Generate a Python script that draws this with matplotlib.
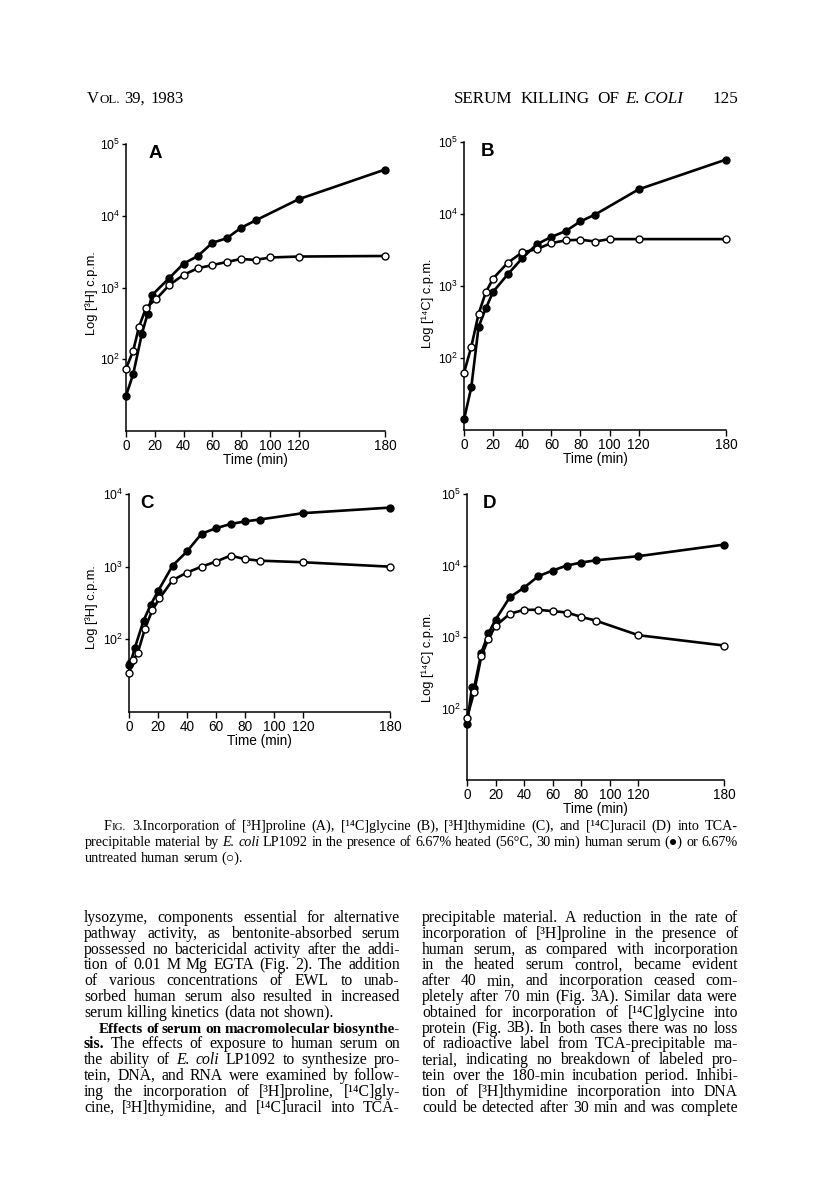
import matplotlib
matplotlib.use("Agg")
import matplotlib.pyplot as plt
from matplotlib.transforms import IdentityTransform

W, H = 816, 1196

plt.rcParams['mathtext.fontset'] = 'custom'
plt.rcParams['mathtext.rm'] = 'Liberation Sans'
plt.rcParams['mathtext.it'] = 'Liberation Sans:italic'
plt.rcParams['mathtext.bf'] = 'Liberation Sans:bold'

SANS = ['Liberation Sans', 'DejaVu Sans']
SERIF = ['Liberation Serif', 'DejaVu Serif']

# ---- data (time in min, counts in c.p.m.) ----
a_heated_t = [0, 5, 11, 15, 18, 30, 40, 50, 60, 70, 80, 90, 120, 180]
a_heated = [31, 62, 225, 430, 780, 1350, 2150, 2750, 4200, 4850, 6800, 8600, 17000, 44000]
a_untreated_t = [0, 5, 9, 14, 21, 30, 40, 50, 60, 70, 80, 90, 100, 120, 180]
a_untreated = [74, 131, 283, 525, 690, 1080, 1500, 1860, 2050, 2270, 2500, 2420, 2620, 2700, 2750]

b_heated_t = [0, 5, 10, 15, 20, 30, 40, 50, 60, 70, 80, 90, 120, 180]
b_heated = [14, 39, 270, 490, 830, 1450, 2430, 3800, 4800, 5800, 7900, 9800, 22000, 57000]
b_untreated_t = [0, 5, 10, 15, 20, 30, 40, 50, 60, 70, 80, 90, 100, 120, 180]
b_untreated = [62, 143, 410, 820, 1270, 2100, 2930, 3250, 3950, 4300, 4400, 4150, 4480, 4480, 4480]

c_heated_t = [0, 1, 4, 10, 15, 20, 30, 40, 50, 60, 70, 80, 90, 120, 180]
c_heated = [45, 47, 76, 180, 300, 460, 1030, 1620, 2840, 3380, 3860, 4200, 4450, 5450, 6500]
c_untreated_t = [0, 3, 6, 11, 16, 21, 30, 40, 50, 60, 70, 80, 90, 120, 180]
c_untreated = [34, 52, 65, 140, 250, 365, 650, 830, 1000, 1175, 1420, 1270, 1210, 1150, 1000]

d_heated_t = [0, 3.5, 5, 10, 15, 20, 30, 40, 50, 60, 70, 80, 90, 120, 180]
d_heated = [60, 200, 195, 600, 1120, 1750, 3600, 4900, 7100, 8500, 10000, 11000, 11800, 13500, 19600]
d_untreated_t = [0, 5, 10, 15, 20, 30, 40, 50, 60, 70, 80, 90, 120, 180]
d_untreated = [74, 170, 535, 950, 1430, 2110, 2400, 2400, 2300, 2200, 1910, 1700, 1060, 760]

time_ticks = [0, 20, 40, 60, 80, 100, 120, 180]

fig = plt.figure(figsize=(8.16, 11.96), dpi=100)
renderer = fig.canvas.get_renderer()


def panel(box, letter, letter_px, ylabel, label_px, ytop, yticks, ylabels,
          heated_t, heated, untr_t, untr):
    l, t, r, b = box
    ax = fig.add_axes([l / W, 1 - b / H, (r - l) / W, (b - t) / H])
    ax.set_yscale('log')
    ax.set_xlim(0, 180)
    ax.set_ylim(10, ytop)
    ax.plot(heated_t, heated, '-o', color='k', lw=1.9, ms=5.0, mfc='k', mec='k',
            clip_on=False, zorder=3)
    ax.plot(untr_t, untr, '-o', color='k', lw=1.9, ms=5.0, mfc='white', mec='k',
            mew=1.0, clip_on=False, zorder=4)
    for s in ['top', 'right']:
        ax.spines[s].set_visible(False)
    for s in ['left', 'bottom']:
        ax.spines[s].set_linewidth(1.1)
    ax.set_xticks(time_ticks)
    ax.set_xticklabels([str(v) for v in time_ticks], family=SANS, fontsize=9.8)
    ax.set_yticks(yticks)
    ax.set_yticklabels(ylabels, fontsize=8.8)
    ax.minorticks_off()
    ax.tick_params(axis='x', length=4, width=1, pad=2)
    ax.tick_params(axis='y', length=3, width=1, pad=1)
    ax.set_xlabel('Time (min)', family=SANS, fontsize=9.8, labelpad=0)
    ax.text((label_px[0] - l) / (r - l), (b - label_px[1]) / (b - t), ylabel,
            rotation=90, ha='center', va='center', family=SANS, fontsize=9.3,
            transform=ax.transAxes)
    ax.text((letter_px[0] - l) / (r - l), (b - letter_px[1]) / (b - t), letter,
            ha='center', va='center', family=SANS, fontsize=13.5, weight='bold',
            transform=ax.transAxes)
    return ax


panel((126, 144, 385, 431), 'A', (155, 153), 'Log [³H] c.p.m.', (92, 293), 1e5,
      [1e2, 1e3, 1e4, 1e5], ['$10^2$', '$10^3$', '$10^4$', '$10^5$'],
      a_heated_t, a_heated, a_untreated_t, a_untreated)
panel((464, 142, 726, 430), 'B', (488, 152), 'Log [¹⁴C] c.p.m.', (428, 303), 1e5,
      [1e2, 1e3, 1e4, 1e5], ['$10^2$', '$10^3$', '$10^4$', '$10^5$'],
      b_heated_t, b_heated, b_untreated_t, b_untreated)
panel((129, 494, 390, 712), 'C', (147, 503), 'Log [³H] c.p.m.', (92, 607), 1e4,
      [1e2, 1e3, 1e4], ['$10^2$', '$10^3$', '$10^4$'],
      c_heated_t, c_heated, c_untreated_t, c_untreated)
panel((467, 494, 724, 780), 'D', (489, 503), 'Log [¹⁴C] c.p.m.', (428, 657), 1e5,
      [1e2, 1e3, 1e4, 1e5], ['$10^2$', '$10^3$', '$10^4$', '$10^5$'],
      d_heated_t, d_heated, d_untreated_t, d_untreated)

# ---- page text ----
STYLE = {'r': ('normal', 'normal', 1.0), 'b': ('bold', 'normal', 1.0),
         'i': ('normal', 'italic', 1.0), 's': ('normal', 'normal', 0.78)}


def split_words(runs):
    words = [[]]
    for txt, st in runs:
        parts = txt.split(' ')
        for i, p in enumerate(parts):
            if i > 0:
                words.append([])
            if p:
                words[-1].append((p, st))
    return [w for w in words if w]


def make_words(words, size):
    arts = []
    for w in words:
        pieces = []
        for txt, st in w:
            wt, sl, sc = STYLE[st]
            tx = fig.text(0, 0, txt, fontsize=size * sc, weight=wt, style=sl,
                          family=SERIF, transform=IdentityTransform(),
                          ha='left', va='baseline')
            pieces.append((tx, tx.get_window_extent(renderer).width))
        arts.append(pieces)
    return arts


def draw_line(x0, y, runs, size, x1=None, space=0.25, min_gap=2.6):
    words = split_words(runs)
    arts = make_words(words, size)
    widths = [sum(p[1] for p in ps) for ps in arts]
    n = len(words)
    if x1 is not None and n > 1 and sum(widths) + min_gap * (n - 1) > x1 - x0:
        # too long at this size: shrink the line a little so it fits
        for ps in arts:
            for tx, _ in ps:
                tx.remove()
        size *= (x1 - x0 - min_gap * (n - 1)) / sum(widths)
        arts = make_words(words, size)
        widths = [sum(p[1] for p in ps) for ps in arts]
    gap = size * 100 / 72 * space
    if x1 is not None and n > 1:
        gap = max((x1 - x0 - sum(widths)) / (n - 1), 1.5)
    x = x0
    for ps, wd in zip(arts, widths):
        xx = x
        for tx, pw in ps:
            tx.set_position((xx, H - y))
            xx += pw
        x += wd + gap


# running head
draw_line(87, 103, [('V', 'r'), ('OL.', 's'), (' 39, 1983', 'r')], 12, space=0.3)
ecoli = fig.text(683, H - 103, 'E. COLI', fontsize=12.3, family=SERIF, style='italic',
                 transform=IdentityTransform(), ha='right', va='baseline')
ew = ecoli.get_window_extent(renderer).width
draw_line(454, 103, [('SERUM KILLING OF', 'r')], 12.3, 683 - ew - 6)
fig.text(738, H - 103, '125', fontsize=12.3, family=SERIF,
         transform=IdentityTransform(), ha='right', va='baseline')

# caption
caption = [
    [('F', 'r'), ('IG.', 's'), (' 3.Incorporation of [³H]proline (A), [¹⁴C]glycine (B), '
                               '[³H]thymidine (C), and [¹⁴C]uracil (D) into TCA-', 'r')],
    [('precipitable material by ', 'r'), ('E. coli', 'i'),
     (' LP1092 in the presence of 6.67% heated (56°C, 30 min) human serum (●) or 6.67%', 'r')],
    [('untreated human serum (○).', 'r')],
]
cap_y = [830, 846, 862]
draw_line(104, cap_y[0], caption[0], 10.2, 738)
draw_line(85, cap_y[1], caption[1], 10.2, 738)
draw_line(85, cap_y[2], caption[2], 10.2)

left_col = [
    [('lysozyme, components essential for alternative', 'r')],
    [('pathway activity, as bentonite-absorbed serum', 'r')],
    [('possessed no bactericidal activity after the addi-', 'r')],
    [('tion of 0.01 M Mg EGTA (Fig. 2). The addition', 'r')],
    [('of various concentrations of EWL to unab-', 'r')],
    [('sorbed human serum also resulted in increased', 'r')],
    [('serum killing kinetics (data not shown).', 'r')],
    [('Effects of serum on macromolecular biosynthe-', 'b')],
    [('sis.', 'b'), (' The effects of exposure to human serum on', 'r')],
    [('the ability of ', 'r'), ('E. coli', 'i'), (' LP1092 to synthesize pro-', 'r')],
    [('tein, DNA, and RNA were examined by follow-', 'r')],
    [('ing the incorporation of [³H]proline, [¹⁴C]gly-', 'r')],
    [('cine, [³H]thymidine, and [¹⁴C]uracil into TCA-', 'r')],
]
right_col = [
    [('precipitable material. A reduction in the rate of', 'r')],
    [('incorporation of [³H]proline in the presence of', 'r')],
    [('human serum, as compared with incorporation', 'r')],
    [('in the heated serum control, became evident', 'r')],
    [('after 40 min, and incorporation ceased com-', 'r')],
    [('pletely after 70 min (Fig. 3A). Similar data were', 'r')],
    [('obtained for incorporation of [¹⁴C]glycine into', 'r')],
    [('protein (Fig. 3B). In both cases there was no loss', 'r')],
    [('of radioactive label from TCA-precipitable ma-', 'r')],
    [('terial, indicating no breakdown of labeled pro-', 'r')],
    [('tein over the 180-min incubation period. Inhibi-', 'r')],
    [('tion of [³H]thymidine incorporation into DNA', 'r')],
    [('could be detected after 30 min and was complete', 'r')],
]

y0, dy = 922, 15.8
for i, runs in enumerate(left_col):
    x0 = 99 if i == 7 else 84
    draw_line(x0, y0 + i * dy, runs, 11.3, None if i == 6 else 400)
for i, runs in enumerate(right_col):
    draw_line(422, y0 + i * dy, runs, 11.3, 738)

fig.savefig('out.png', dpi=100, facecolor='white')
